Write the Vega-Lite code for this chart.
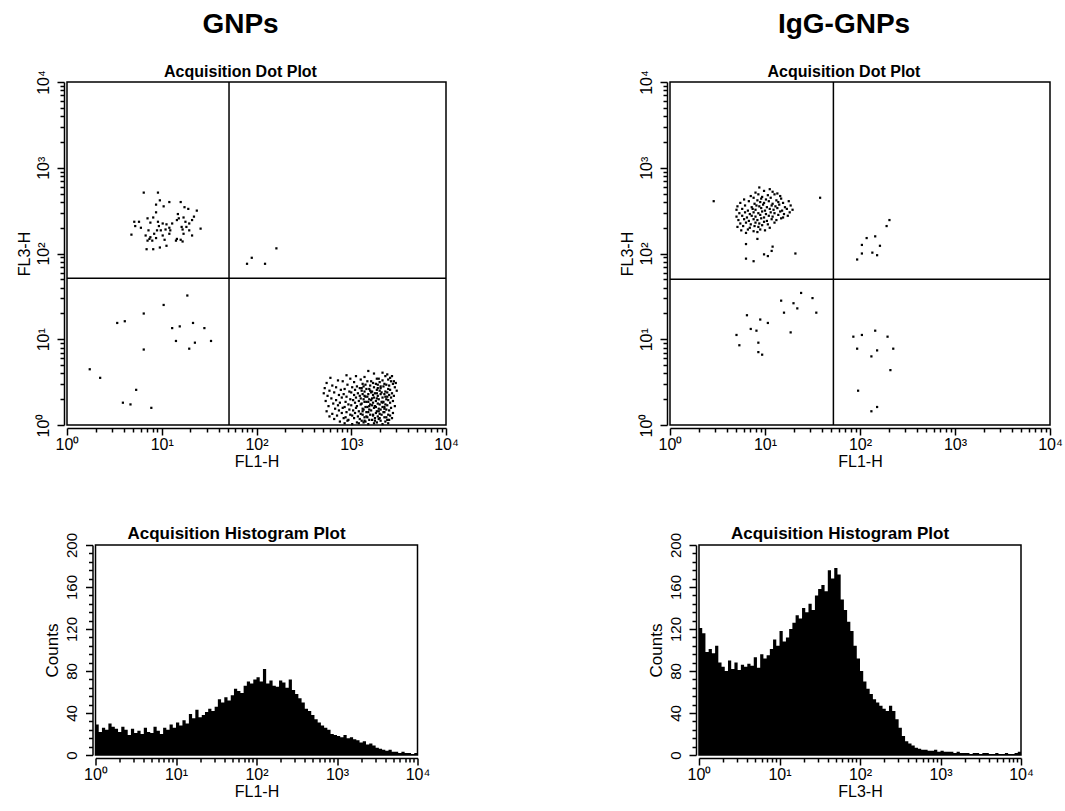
{
  "$schema": "https://vega.github.io/schema/vega-lite/v6.json",
  "autosize": {"type": "none"},
  "padding": {"left": 67, "top": 82, "right": 998, "bottom": 729},
  "background": "white",
  "config": {
    "font": "Liberation Sans",
    "view": {"stroke": "black", "strokeWidth": 1.5},
    "axis": {
      "grid": false,
      "domainColor": "black",
      "domainWidth": 1.5,
      "tickColor": "black",
      "tickWidth": 1.5,
      "labelColor": "black",
      "titleColor": "black",
      "labelFont": "Liberation Sans",
      "titleFont": "Liberation Sans",
      "labelFontSize": 16,
      "titleFontSize": 16,
      "titleFontWeight": "normal",
      "labelFlush": false,
      "labelOverlap": false,
      "labelBound": false
    },
    "title": {
      "font": "Liberation Sans",
      "color": "black",
      "subtitleColor": "black",
      "subtitleFont": "Liberation Sans",
      "anchor": "middle"
    }
  },
  "datasets": {
    "gnps_dots": [
      {"lgFL1": 1.90, "lgFL3": 1.88}, {"lgFL1": 1.95, "lgFL3": 1.95}, {"lgFL1": 2.09, "lgFL3": 1.88}, {"lgFL1": 2.21, "lgFL3": 2.06},
      {"lgFL1": 0.24, "lgFL3": 0.65}, {"lgFL1": 0.35, "lgFL3": 0.55}, {"lgFL1": 0.59, "lgFL3": 0.26}, {"lgFL1": 0.67, "lgFL3": 0.24},
      {"lgFL1": 0.73, "lgFL3": 0.41}, {"lgFL1": 0.89, "lgFL3": 0.20}, {"lgFL1": 0.53, "lgFL3": 1.19}, {"lgFL1": 0.61, "lgFL3": 1.21},
      {"lgFL1": 0.81, "lgFL3": 1.30}, {"lgFL1": 0.81, "lgFL3": 0.88}, {"lgFL1": 1.02, "lgFL3": 1.40}, {"lgFL1": 1.27, "lgFL3": 1.51},
      {"lgFL1": 1.11, "lgFL3": 1.13}, {"lgFL1": 1.15, "lgFL3": 0.98}, {"lgFL1": 1.19, "lgFL3": 1.15}, {"lgFL1": 1.33, "lgFL3": 1.19},
      {"lgFL1": 1.35, "lgFL3": 0.96}, {"lgFL1": 1.45, "lgFL3": 1.13}, {"lgFL1": 1.29, "lgFL3": 0.89}, {"lgFL1": 1.52, "lgFL3": 0.98},
      {"lgFL1": 0.81, "lgFL3": 2.71}, {"lgFL1": 0.96, "lgFL3": 2.71}, {"lgFL1": 0.98, "lgFL3": 2.62}, {"lgFL1": 0.94, "lgFL3": 2.57},
      {"lgFL1": 1.02, "lgFL3": 2.55}, {"lgFL1": 1.08, "lgFL3": 2.60}, {"lgFL1": 1.20, "lgFL3": 2.60}, {"lgFL1": 1.24, "lgFL3": 2.54},
      {"lgFL1": 1.28, "lgFL3": 2.52}, {"lgFL1": 1.37, "lgFL3": 2.50}, {"lgFL1": 0.94, "lgFL3": 2.48}, {"lgFL1": 0.91, "lgFL3": 2.42},
      {"lgFL1": 1.17, "lgFL3": 2.46}, {"lgFL1": 1.18, "lgFL3": 2.41}, {"lgFL1": 1.23, "lgFL3": 2.42}, {"lgFL1": 1.34, "lgFL3": 2.43},
      {"lgFL1": 0.71, "lgFL3": 2.37}, {"lgFL1": 0.76, "lgFL3": 2.37}, {"lgFL1": 0.85, "lgFL3": 2.41}, {"lgFL1": 0.88, "lgFL3": 2.36},
      {"lgFL1": 0.96, "lgFL3": 2.37}, {"lgFL1": 1.01, "lgFL3": 2.35}, {"lgFL1": 1.05, "lgFL3": 2.34}, {"lgFL1": 1.25, "lgFL3": 2.37},
      {"lgFL1": 1.29, "lgFL3": 2.35}, {"lgFL1": 0.78, "lgFL3": 2.30}, {"lgFL1": 0.72, "lgFL3": 2.32}, {"lgFL1": 0.97, "lgFL3": 2.32},
      {"lgFL1": 0.99, "lgFL3": 2.27}, {"lgFL1": 1.04, "lgFL3": 2.28}, {"lgFL1": 1.09, "lgFL3": 2.27}, {"lgFL1": 1.22, "lgFL3": 2.28},
      {"lgFL1": 1.29, "lgFL3": 2.27}, {"lgFL1": 1.41, "lgFL3": 2.29}, {"lgFL1": 0.68, "lgFL3": 2.22}, {"lgFL1": 0.83, "lgFL3": 2.21},
      {"lgFL1": 0.87, "lgFL3": 2.17}, {"lgFL1": 0.90, "lgFL3": 2.15}, {"lgFL1": 0.85, "lgFL3": 2.15}, {"lgFL1": 0.94, "lgFL3": 2.18},
      {"lgFL1": 1.01, "lgFL3": 2.21}, {"lgFL1": 1.03, "lgFL3": 2.16}, {"lgFL1": 1.16, "lgFL3": 2.17}, {"lgFL1": 1.20, "lgFL3": 2.16},
      {"lgFL1": 1.23, "lgFL3": 2.23}, {"lgFL1": 1.32, "lgFL3": 2.21}, {"lgFL1": 0.84, "lgFL3": 2.05}, {"lgFL1": 0.91, "lgFL3": 2.05},
      {"lgFL1": 0.98, "lgFL3": 2.07}, {"lgFL1": 1.05, "lgFL3": 2.09}, {"lgFL1": 1.08, "lgFL3": 2.30}, {"lgFL1": 0.95, "lgFL3": 2.27},
      {"lgFL1": 0.86, "lgFL3": 2.27}, {"lgFL1": 0.92, "lgFL3": 2.23}, {"lgFL1": 1.11, "lgFL3": 2.35}, {"lgFL1": 1.16, "lgFL3": 2.39},
      {"lgFL1": 1.21, "lgFL3": 2.31}, {"lgFL1": 1.26, "lgFL3": 2.31}, {"lgFL1": 1.32, "lgFL3": 2.39}, {"lgFL1": 1.15, "lgFL3": 2.15},
      {"lgFL1": 1.22, "lgFL3": 2.14}, {"lgFL1": 0.88, "lgFL3": 2.19}, {"lgFL1": 1.08, "lgFL3": 2.23},
      {"lgFL1": 3.18, "lgFL3": 0.63}, {"lgFL1": 3.33, "lgFL3": 0.61},
      {"lgFL1": 2.95, "lgFL3": 0.58}, {"lgFL1": 3.24, "lgFL3": 0.60}, {"lgFL1": 3.38, "lgFL3": 0.59}, {"lgFL1": 3.43, "lgFL3": 0.57},
      {"lgFL1": 2.78, "lgFL3": 0.55}, {"lgFL1": 3.05, "lgFL3": 0.57}, {"lgFL1": 3.14, "lgFL3": 0.56}, {"lgFL1": 3.29, "lgFL3": 0.54}, {"lgFL1": 3.36, "lgFL3": 0.57}, {"lgFL1": 3.41, "lgFL3": 0.55},
      {"lgFL1": 2.86, "lgFL3": 0.52}, {"lgFL1": 2.99, "lgFL3": 0.54}, {"lgFL1": 3.10, "lgFL3": 0.53}, {"lgFL1": 3.21, "lgFL3": 0.51}, {"lgFL1": 3.27, "lgFL3": 0.54}, {"lgFL1": 3.33, "lgFL3": 0.52}, {"lgFL1": 3.39, "lgFL3": 0.53}, {"lgFL1": 3.45, "lgFL3": 0.51},
      {"lgFL1": 2.74, "lgFL3": 0.49}, {"lgFL1": 2.91, "lgFL3": 0.51}, {"lgFL1": 3.03, "lgFL3": 0.50}, {"lgFL1": 3.12, "lgFL3": 0.48}, {"lgFL1": 3.17, "lgFL3": 0.51}, {"lgFL1": 3.23, "lgFL3": 0.49}, {"lgFL1": 3.30, "lgFL3": 0.50}, {"lgFL1": 3.35, "lgFL3": 0.48}, {"lgFL1": 3.42, "lgFL3": 0.51}, {"lgFL1": 3.47, "lgFL3": 0.49},
      {"lgFL1": 2.80, "lgFL3": 0.46}, {"lgFL1": 2.96, "lgFL3": 0.47}, {"lgFL1": 3.06, "lgFL3": 0.45}, {"lgFL1": 3.15, "lgFL3": 0.47}, {"lgFL1": 3.20, "lgFL3": 0.46}, {"lgFL1": 3.26, "lgFL3": 0.48}, {"lgFL1": 3.31, "lgFL3": 0.45}, {"lgFL1": 3.37, "lgFL3": 0.47}, {"lgFL1": 3.40, "lgFL3": 0.46}, {"lgFL1": 3.44, "lgFL3": 0.48},
      {"lgFL1": 2.72, "lgFL3": 0.43}, {"lgFL1": 2.84, "lgFL3": 0.44}, {"lgFL1": 2.93, "lgFL3": 0.42}, {"lgFL1": 3.01, "lgFL3": 0.44}, {"lgFL1": 3.09, "lgFL3": 0.43}, {"lgFL1": 3.13, "lgFL3": 0.45}, {"lgFL1": 3.19, "lgFL3": 0.42}, {"lgFL1": 3.24, "lgFL3": 0.44}, {"lgFL1": 3.28, "lgFL3": 0.43}, {"lgFL1": 3.34, "lgFL3": 0.45}, {"lgFL1": 3.39, "lgFL3": 0.42}, {"lgFL1": 3.46, "lgFL3": 0.44},
      {"lgFL1": 2.77, "lgFL3": 0.40}, {"lgFL1": 2.89, "lgFL3": 0.41}, {"lgFL1": 2.98, "lgFL3": 0.39}, {"lgFL1": 3.04, "lgFL3": 0.41}, {"lgFL1": 3.11, "lgFL3": 0.40}, {"lgFL1": 3.16, "lgFL3": 0.42}, {"lgFL1": 3.22, "lgFL3": 0.39}, {"lgFL1": 3.27, "lgFL3": 0.41}, {"lgFL1": 3.30, "lgFL3": 0.40}, {"lgFL1": 3.36, "lgFL3": 0.39}, {"lgFL1": 3.41, "lgFL3": 0.41}, {"lgFL1": 3.48, "lgFL3": 0.40},
      {"lgFL1": 2.71, "lgFL3": 0.37}, {"lgFL1": 2.82, "lgFL3": 0.38}, {"lgFL1": 2.92, "lgFL3": 0.36}, {"lgFL1": 3.00, "lgFL3": 0.38}, {"lgFL1": 3.07, "lgFL3": 0.37}, {"lgFL1": 3.14, "lgFL3": 0.39}, {"lgFL1": 3.18, "lgFL3": 0.36}, {"lgFL1": 3.21, "lgFL3": 0.38}, {"lgFL1": 3.25, "lgFL3": 0.37}, {"lgFL1": 3.32, "lgFL3": 0.38}, {"lgFL1": 3.35, "lgFL3": 0.36}, {"lgFL1": 3.38, "lgFL3": 0.38}, {"lgFL1": 3.43, "lgFL3": 0.37},
      {"lgFL1": 2.75, "lgFL3": 0.34}, {"lgFL1": 2.87, "lgFL3": 0.35}, {"lgFL1": 2.95, "lgFL3": 0.33}, {"lgFL1": 3.03, "lgFL3": 0.35}, {"lgFL1": 3.09, "lgFL3": 0.34}, {"lgFL1": 3.12, "lgFL3": 0.36}, {"lgFL1": 3.17, "lgFL3": 0.33}, {"lgFL1": 3.23, "lgFL3": 0.35}, {"lgFL1": 3.28, "lgFL3": 0.34}, {"lgFL1": 3.31, "lgFL3": 0.36}, {"lgFL1": 3.36, "lgFL3": 0.33}, {"lgFL1": 3.40, "lgFL3": 0.35}, {"lgFL1": 3.45, "lgFL3": 0.34},
      {"lgFL1": 2.79, "lgFL3": 0.31}, {"lgFL1": 2.90, "lgFL3": 0.32}, {"lgFL1": 2.99, "lgFL3": 0.30}, {"lgFL1": 3.05, "lgFL3": 0.32}, {"lgFL1": 3.10, "lgFL3": 0.31}, {"lgFL1": 3.15, "lgFL3": 0.33}, {"lgFL1": 3.19, "lgFL3": 0.30}, {"lgFL1": 3.24, "lgFL3": 0.32}, {"lgFL1": 3.27, "lgFL3": 0.31}, {"lgFL1": 3.33, "lgFL3": 0.32}, {"lgFL1": 3.37, "lgFL3": 0.30}, {"lgFL1": 3.42, "lgFL3": 0.32},
      {"lgFL1": 2.73, "lgFL3": 0.28}, {"lgFL1": 2.84, "lgFL3": 0.29}, {"lgFL1": 2.94, "lgFL3": 0.27}, {"lgFL1": 3.02, "lgFL3": 0.29}, {"lgFL1": 3.08, "lgFL3": 0.28}, {"lgFL1": 3.13, "lgFL3": 0.30}, {"lgFL1": 3.16, "lgFL3": 0.27}, {"lgFL1": 3.21, "lgFL3": 0.29}, {"lgFL1": 3.26, "lgFL3": 0.28}, {"lgFL1": 3.29, "lgFL3": 0.30}, {"lgFL1": 3.34, "lgFL3": 0.27}, {"lgFL1": 3.39, "lgFL3": 0.29}, {"lgFL1": 3.44, "lgFL3": 0.28},
      {"lgFL1": 2.81, "lgFL3": 0.25}, {"lgFL1": 2.88, "lgFL3": 0.26}, {"lgFL1": 2.97, "lgFL3": 0.24}, {"lgFL1": 3.04, "lgFL3": 0.26}, {"lgFL1": 3.11, "lgFL3": 0.25}, {"lgFL1": 3.14, "lgFL3": 0.27}, {"lgFL1": 3.20, "lgFL3": 0.24}, {"lgFL1": 3.23, "lgFL3": 0.26}, {"lgFL1": 3.28, "lgFL3": 0.25}, {"lgFL1": 3.32, "lgFL3": 0.27}, {"lgFL1": 3.36, "lgFL3": 0.24}, {"lgFL1": 3.41, "lgFL3": 0.26},
      {"lgFL1": 2.76, "lgFL3": 0.22}, {"lgFL1": 2.86, "lgFL3": 0.23}, {"lgFL1": 2.93, "lgFL3": 0.21}, {"lgFL1": 3.00, "lgFL3": 0.23}, {"lgFL1": 3.06, "lgFL3": 0.22}, {"lgFL1": 3.10, "lgFL3": 0.24}, {"lgFL1": 3.17, "lgFL3": 0.21}, {"lgFL1": 3.22, "lgFL3": 0.23}, {"lgFL1": 3.25, "lgFL3": 0.22}, {"lgFL1": 3.30, "lgFL3": 0.24}, {"lgFL1": 3.35, "lgFL3": 0.21}, {"lgFL1": 3.38, "lgFL3": 0.23}, {"lgFL1": 3.46, "lgFL3": 0.22},
      {"lgFL1": 2.83, "lgFL3": 0.19}, {"lgFL1": 2.91, "lgFL3": 0.20}, {"lgFL1": 2.98, "lgFL3": 0.18}, {"lgFL1": 3.05, "lgFL3": 0.20}, {"lgFL1": 3.12, "lgFL3": 0.19}, {"lgFL1": 3.15, "lgFL3": 0.21}, {"lgFL1": 3.19, "lgFL3": 0.18}, {"lgFL1": 3.24, "lgFL3": 0.20}, {"lgFL1": 3.29, "lgFL3": 0.19}, {"lgFL1": 3.33, "lgFL3": 0.21}, {"lgFL1": 3.37, "lgFL3": 0.18}, {"lgFL1": 3.42, "lgFL3": 0.20},
      {"lgFL1": 2.74, "lgFL3": 0.16}, {"lgFL1": 2.87, "lgFL3": 0.17}, {"lgFL1": 2.95, "lgFL3": 0.15}, {"lgFL1": 3.02, "lgFL3": 0.17}, {"lgFL1": 3.08, "lgFL3": 0.16}, {"lgFL1": 3.13, "lgFL3": 0.18}, {"lgFL1": 3.18, "lgFL3": 0.15}, {"lgFL1": 3.21, "lgFL3": 0.17}, {"lgFL1": 3.27, "lgFL3": 0.16}, {"lgFL1": 3.31, "lgFL3": 0.18}, {"lgFL1": 3.35, "lgFL3": 0.15}, {"lgFL1": 3.40, "lgFL3": 0.17},
      {"lgFL1": 2.80, "lgFL3": 0.13}, {"lgFL1": 2.90, "lgFL3": 0.14}, {"lgFL1": 2.99, "lgFL3": 0.12}, {"lgFL1": 3.04, "lgFL3": 0.14}, {"lgFL1": 3.10, "lgFL3": 0.13}, {"lgFL1": 3.16, "lgFL3": 0.15}, {"lgFL1": 3.20, "lgFL3": 0.12}, {"lgFL1": 3.26, "lgFL3": 0.14}, {"lgFL1": 3.30, "lgFL3": 0.13}, {"lgFL1": 3.34, "lgFL3": 0.15}, {"lgFL1": 3.39, "lgFL3": 0.12}, {"lgFL1": 3.44, "lgFL3": 0.14},
      {"lgFL1": 2.77, "lgFL3": 0.10}, {"lgFL1": 2.85, "lgFL3": 0.11}, {"lgFL1": 2.94, "lgFL3": 0.09}, {"lgFL1": 3.01, "lgFL3": 0.11}, {"lgFL1": 3.07, "lgFL3": 0.10}, {"lgFL1": 3.12, "lgFL3": 0.12}, {"lgFL1": 3.17, "lgFL3": 0.09}, {"lgFL1": 3.23, "lgFL3": 0.11}, {"lgFL1": 3.28, "lgFL3": 0.10}, {"lgFL1": 3.32, "lgFL3": 0.12}, {"lgFL1": 3.37, "lgFL3": 0.09}, {"lgFL1": 3.41, "lgFL3": 0.11},
      {"lgFL1": 2.82, "lgFL3": 0.07}, {"lgFL1": 2.92, "lgFL3": 0.08}, {"lgFL1": 2.97, "lgFL3": 0.06}, {"lgFL1": 3.03, "lgFL3": 0.08}, {"lgFL1": 3.09, "lgFL3": 0.07}, {"lgFL1": 3.14, "lgFL3": 0.09}, {"lgFL1": 3.19, "lgFL3": 0.06}, {"lgFL1": 3.25, "lgFL3": 0.08}, {"lgFL1": 3.29, "lgFL3": 0.07}, {"lgFL1": 3.35, "lgFL3": 0.09}, {"lgFL1": 3.38, "lgFL3": 0.06}, {"lgFL1": 3.43, "lgFL3": 0.08},
      {"lgFL1": 2.88, "lgFL3": 0.04}, {"lgFL1": 2.96, "lgFL3": 0.05}, {"lgFL1": 3.06, "lgFL3": 0.03}, {"lgFL1": 3.11, "lgFL3": 0.05}, {"lgFL1": 3.15, "lgFL3": 0.04}, {"lgFL1": 3.22, "lgFL3": 0.06}, {"lgFL1": 3.27, "lgFL3": 0.03}, {"lgFL1": 3.31, "lgFL3": 0.05}, {"lgFL1": 3.36, "lgFL3": 0.04}, {"lgFL1": 3.40, "lgFL3": 0.06},
      {"lgFL1": 2.93, "lgFL3": 0.02}, {"lgFL1": 3.01, "lgFL3": 0.01}, {"lgFL1": 3.08, "lgFL3": 0.02}, {"lgFL1": 3.13, "lgFL3": 0.03}, {"lgFL1": 3.18, "lgFL3": 0.01}, {"lgFL1": 3.24, "lgFL3": 0.02}, {"lgFL1": 3.33, "lgFL3": 0.01}, {"lgFL1": 3.39, "lgFL3": 0.02},
      {"lgFL1": 3.14, "lgFL3": 0.34}, {"lgFL1": 3.26, "lgFL3": 0.21}, {"lgFL1": 3.20, "lgFL3": 0.40}, {"lgFL1": 3.29, "lgFL3": 0.16}, {"lgFL1": 3.18, "lgFL3": 0.27},
      {"lgFL1": 3.23, "lgFL3": 0.12}, {"lgFL1": 3.31, "lgFL3": 0.43}, {"lgFL1": 3.12, "lgFL3": 0.16}, {"lgFL1": 3.33, "lgFL3": 0.26}, {"lgFL1": 3.27, "lgFL3": 0.37},
      {"lgFL1": 3.16, "lgFL3": 0.10}, {"lgFL1": 3.22, "lgFL3": 0.31}, {"lgFL1": 3.35, "lgFL3": 0.19}, {"lgFL1": 3.11, "lgFL3": 0.43}, {"lgFL1": 3.25, "lgFL3": 0.05},
      {"lgFL1": 3.38, "lgFL3": 0.33}, {"lgFL1": 3.19, "lgFL3": 0.22}, {"lgFL1": 3.30, "lgFL3": 0.08}, {"lgFL1": 3.14, "lgFL3": 0.05}, {"lgFL1": 3.28, "lgFL3": 0.47}
    ],
    "igg_dots": [
      {"lgFL1": 0.94, "lgFL3": 2.77}, {"lgFL1": 1.05, "lgFL3": 2.75},
      {"lgFL1": 0.90, "lgFL3": 2.71}, {"lgFL1": 0.99, "lgFL3": 2.73}, {"lgFL1": 1.08, "lgFL3": 2.72}, {"lgFL1": 1.13, "lgFL3": 2.70},
      {"lgFL1": 0.85, "lgFL3": 2.67}, {"lgFL1": 0.93, "lgFL3": 2.69}, {"lgFL1": 0.97, "lgFL3": 2.66}, {"lgFL1": 1.03, "lgFL3": 2.68}, {"lgFL1": 1.10, "lgFL3": 2.69}, {"lgFL1": 1.16, "lgFL3": 2.67},
      {"lgFL1": 0.78, "lgFL3": 2.63}, {"lgFL1": 0.88, "lgFL3": 2.65}, {"lgFL1": 0.92, "lgFL3": 2.62}, {"lgFL1": 0.96, "lgFL3": 2.64}, {"lgFL1": 1.01, "lgFL3": 2.63}, {"lgFL1": 1.06, "lgFL3": 2.65}, {"lgFL1": 1.12, "lgFL3": 2.62}, {"lgFL1": 1.17, "lgFL3": 2.64},
      {"lgFL1": 0.74, "lgFL3": 2.59}, {"lgFL1": 0.83, "lgFL3": 2.61}, {"lgFL1": 0.89, "lgFL3": 2.58}, {"lgFL1": 0.95, "lgFL3": 2.60}, {"lgFL1": 0.99, "lgFL3": 2.59}, {"lgFL1": 1.04, "lgFL3": 2.61}, {"lgFL1": 1.08, "lgFL3": 2.58}, {"lgFL1": 1.14, "lgFL3": 2.60}, {"lgFL1": 1.19, "lgFL3": 2.59}, {"lgFL1": 1.25, "lgFL3": 2.61},
      {"lgFL1": 0.71, "lgFL3": 2.55}, {"lgFL1": 0.79, "lgFL3": 2.56}, {"lgFL1": 0.86, "lgFL3": 2.54}, {"lgFL1": 0.91, "lgFL3": 2.56}, {"lgFL1": 0.94, "lgFL3": 2.55}, {"lgFL1": 0.98, "lgFL3": 2.57}, {"lgFL1": 1.02, "lgFL3": 2.54}, {"lgFL1": 1.07, "lgFL3": 2.56}, {"lgFL1": 1.11, "lgFL3": 2.55}, {"lgFL1": 1.15, "lgFL3": 2.57}, {"lgFL1": 1.21, "lgFL3": 2.54}, {"lgFL1": 1.27, "lgFL3": 2.56},
      {"lgFL1": 0.70, "lgFL3": 2.51}, {"lgFL1": 0.76, "lgFL3": 2.52}, {"lgFL1": 0.82, "lgFL3": 2.50}, {"lgFL1": 0.87, "lgFL3": 2.52}, {"lgFL1": 0.90, "lgFL3": 2.51}, {"lgFL1": 0.96, "lgFL3": 2.53}, {"lgFL1": 1.00, "lgFL3": 2.50}, {"lgFL1": 1.05, "lgFL3": 2.52}, {"lgFL1": 1.09, "lgFL3": 2.51}, {"lgFL1": 1.13, "lgFL3": 2.53}, {"lgFL1": 1.18, "lgFL3": 2.50}, {"lgFL1": 1.23, "lgFL3": 2.52}, {"lgFL1": 1.29, "lgFL3": 2.51},
      {"lgFL1": 0.73, "lgFL3": 2.47}, {"lgFL1": 0.79, "lgFL3": 2.48}, {"lgFL1": 0.84, "lgFL3": 2.46}, {"lgFL1": 0.88, "lgFL3": 2.48}, {"lgFL1": 0.93, "lgFL3": 2.47}, {"lgFL1": 0.97, "lgFL3": 2.49}, {"lgFL1": 1.01, "lgFL3": 2.46}, {"lgFL1": 1.06, "lgFL3": 2.48}, {"lgFL1": 1.10, "lgFL3": 2.47}, {"lgFL1": 1.16, "lgFL3": 2.49}, {"lgFL1": 1.20, "lgFL3": 2.46}, {"lgFL1": 1.26, "lgFL3": 2.48},
      {"lgFL1": 0.70, "lgFL3": 2.43}, {"lgFL1": 0.76, "lgFL3": 2.44}, {"lgFL1": 0.81, "lgFL3": 2.42}, {"lgFL1": 0.86, "lgFL3": 2.44}, {"lgFL1": 0.90, "lgFL3": 2.43}, {"lgFL1": 0.95, "lgFL3": 2.45}, {"lgFL1": 0.99, "lgFL3": 2.42}, {"lgFL1": 1.04, "lgFL3": 2.44}, {"lgFL1": 1.08, "lgFL3": 2.43}, {"lgFL1": 1.14, "lgFL3": 2.45}, {"lgFL1": 1.19, "lgFL3": 2.42}, {"lgFL1": 1.24, "lgFL3": 2.44},
      {"lgFL1": 0.72, "lgFL3": 2.39}, {"lgFL1": 0.78, "lgFL3": 2.40}, {"lgFL1": 0.83, "lgFL3": 2.38}, {"lgFL1": 0.88, "lgFL3": 2.40}, {"lgFL1": 0.92, "lgFL3": 2.39}, {"lgFL1": 0.96, "lgFL3": 2.41}, {"lgFL1": 1.02, "lgFL3": 2.38}, {"lgFL1": 1.07, "lgFL3": 2.40}, {"lgFL1": 1.12, "lgFL3": 2.39}, {"lgFL1": 1.17, "lgFL3": 2.41},
      {"lgFL1": 0.74, "lgFL3": 2.35}, {"lgFL1": 0.80, "lgFL3": 2.36}, {"lgFL1": 0.85, "lgFL3": 2.34}, {"lgFL1": 0.90, "lgFL3": 2.36}, {"lgFL1": 0.94, "lgFL3": 2.35}, {"lgFL1": 0.99, "lgFL3": 2.37}, {"lgFL1": 1.03, "lgFL3": 2.34}, {"lgFL1": 1.10, "lgFL3": 2.36},
      {"lgFL1": 0.71, "lgFL3": 2.31}, {"lgFL1": 0.77, "lgFL3": 2.32}, {"lgFL1": 0.84, "lgFL3": 2.30}, {"lgFL1": 0.89, "lgFL3": 2.32}, {"lgFL1": 0.93, "lgFL3": 2.31}, {"lgFL1": 0.97, "lgFL3": 2.33}, {"lgFL1": 1.05, "lgFL3": 2.30},
      {"lgFL1": 0.75, "lgFL3": 2.27}, {"lgFL1": 0.82, "lgFL3": 2.28}, {"lgFL1": 0.88, "lgFL3": 2.26}, {"lgFL1": 0.95, "lgFL3": 2.28}, {"lgFL1": 1.00, "lgFL3": 2.27},
      {"lgFL1": 0.80, "lgFL3": 2.24}, {"lgFL1": 0.92, "lgFL3": 2.25},
      {"lgFL1": 0.46, "lgFL3": 2.61}, {"lgFL1": 1.58, "lgFL3": 2.65}, {"lgFL1": 1.32, "lgFL3": 2.00}, {"lgFL1": 0.80, "lgFL3": 2.11}, {"lgFL1": 0.80, "lgFL3": 1.94},
      {"lgFL1": 0.88, "lgFL3": 1.91}, {"lgFL1": 0.92, "lgFL3": 2.17}, {"lgFL1": 0.99, "lgFL3": 1.99}, {"lgFL1": 1.03, "lgFL3": 1.97}, {"lgFL1": 1.07, "lgFL3": 2.03}, {"lgFL1": 1.08, "lgFL3": 2.08},
      {"lgFL1": 1.97, "lgFL3": 1.93}, {"lgFL1": 2.02, "lgFL3": 2.00}, {"lgFL1": 2.02, "lgFL3": 2.10}, {"lgFL1": 2.07, "lgFL3": 2.18}, {"lgFL1": 2.16, "lgFL3": 2.20},
      {"lgFL1": 2.13, "lgFL3": 2.01}, {"lgFL1": 2.18, "lgFL3": 1.98}, {"lgFL1": 2.21, "lgFL3": 2.09}, {"lgFL1": 2.28, "lgFL3": 2.32}, {"lgFL1": 2.31, "lgFL3": 2.39},
      {"lgFL1": 0.81, "lgFL3": 1.28}, {"lgFL1": 0.70, "lgFL3": 1.05}, {"lgFL1": 0.73, "lgFL3": 0.93}, {"lgFL1": 0.85, "lgFL3": 1.12}, {"lgFL1": 0.91, "lgFL3": 1.10}, {"lgFL1": 0.95, "lgFL3": 1.23},
      {"lgFL1": 0.93, "lgFL3": 0.96}, {"lgFL1": 0.93, "lgFL3": 0.85}, {"lgFL1": 0.97, "lgFL3": 0.82}, {"lgFL1": 1.03, "lgFL3": 1.19}, {"lgFL1": 1.17, "lgFL3": 1.45}, {"lgFL1": 1.20, "lgFL3": 1.31},
      {"lgFL1": 1.27, "lgFL3": 1.08}, {"lgFL1": 1.30, "lgFL3": 1.42}, {"lgFL1": 1.34, "lgFL3": 1.36}, {"lgFL1": 1.38, "lgFL3": 1.54}, {"lgFL1": 1.50, "lgFL3": 1.48}, {"lgFL1": 1.54, "lgFL3": 1.31},
      {"lgFL1": 1.93, "lgFL3": 1.03}, {"lgFL1": 2.02, "lgFL3": 1.05}, {"lgFL1": 1.97, "lgFL3": 0.89}, {"lgFL1": 2.16, "lgFL3": 1.10}, {"lgFL1": 2.18, "lgFL3": 0.87}, {"lgFL1": 2.12, "lgFL3": 0.80},
      {"lgFL1": 2.29, "lgFL3": 1.03}, {"lgFL1": 2.35, "lgFL3": 0.89}, {"lgFL1": 2.32, "lgFL3": 0.64}, {"lgFL1": 1.98, "lgFL3": 0.40}, {"lgFL1": 2.12, "lgFL3": 0.16}, {"lgFL1": 2.18, "lgFL3": 0.21}
    ],
    "gnps_gate": [{"gateFL1": 1.71, "gateFL3": 1.71}],
    "igg_gate": [{"gateFL1": 1.72, "gateFL3": 1.70}],
    "gnps_hist": [
      {"lgFL": 0.00, "counts": 29}, {"lgFL": 0.04, "counts": 22}, {"lgFL": 0.08, "counts": 26}, {"lgFL": 0.12, "counts": 24}, {"lgFL": 0.16, "counts": 30},
      {"lgFL": 0.20, "counts": 27}, {"lgFL": 0.24, "counts": 25}, {"lgFL": 0.28, "counts": 22}, {"lgFL": 0.32, "counts": 27}, {"lgFL": 0.36, "counts": 24},
      {"lgFL": 0.40, "counts": 19}, {"lgFL": 0.44, "counts": 25}, {"lgFL": 0.48, "counts": 21}, {"lgFL": 0.52, "counts": 23}, {"lgFL": 0.56, "counts": 20},
      {"lgFL": 0.60, "counts": 26}, {"lgFL": 0.64, "counts": 22}, {"lgFL": 0.68, "counts": 21}, {"lgFL": 0.72, "counts": 27}, {"lgFL": 0.76, "counts": 23},
      {"lgFL": 0.80, "counts": 20}, {"lgFL": 0.84, "counts": 26}, {"lgFL": 0.88, "counts": 24}, {"lgFL": 0.92, "counts": 29}, {"lgFL": 0.96, "counts": 26},
      {"lgFL": 1.00, "counts": 31}, {"lgFL": 1.04, "counts": 28}, {"lgFL": 1.08, "counts": 33}, {"lgFL": 1.12, "counts": 30}, {"lgFL": 1.16, "counts": 39},
      {"lgFL": 1.20, "counts": 35}, {"lgFL": 1.24, "counts": 43}, {"lgFL": 1.28, "counts": 36}, {"lgFL": 1.32, "counts": 38}, {"lgFL": 1.36, "counts": 41},
      {"lgFL": 1.40, "counts": 44}, {"lgFL": 1.44, "counts": 42}, {"lgFL": 1.48, "counts": 46}, {"lgFL": 1.52, "counts": 53}, {"lgFL": 1.56, "counts": 50},
      {"lgFL": 1.60, "counts": 55}, {"lgFL": 1.64, "counts": 52}, {"lgFL": 1.68, "counts": 57}, {"lgFL": 1.72, "counts": 63}, {"lgFL": 1.76, "counts": 61},
      {"lgFL": 1.80, "counts": 59}, {"lgFL": 1.84, "counts": 66}, {"lgFL": 1.88, "counts": 70}, {"lgFL": 1.92, "counts": 68}, {"lgFL": 1.96, "counts": 72},
      {"lgFL": 2.00, "counts": 74}, {"lgFL": 2.04, "counts": 70}, {"lgFL": 2.08, "counts": 82}, {"lgFL": 2.12, "counts": 68}, {"lgFL": 2.16, "counts": 71},
      {"lgFL": 2.20, "counts": 66}, {"lgFL": 2.24, "counts": 65}, {"lgFL": 2.28, "counts": 71}, {"lgFL": 2.32, "counts": 69}, {"lgFL": 2.36, "counts": 64},
      {"lgFL": 2.40, "counts": 72}, {"lgFL": 2.44, "counts": 62}, {"lgFL": 2.48, "counts": 58}, {"lgFL": 2.52, "counts": 54}, {"lgFL": 2.56, "counts": 50},
      {"lgFL": 2.60, "counts": 44}, {"lgFL": 2.64, "counts": 42}, {"lgFL": 2.68, "counts": 38}, {"lgFL": 2.72, "counts": 34}, {"lgFL": 2.76, "counts": 31},
      {"lgFL": 2.80, "counts": 28}, {"lgFL": 2.84, "counts": 26}, {"lgFL": 2.88, "counts": 24}, {"lgFL": 2.92, "counts": 20}, {"lgFL": 2.96, "counts": 19},
      {"lgFL": 3.00, "counts": 18}, {"lgFL": 3.04, "counts": 17}, {"lgFL": 3.08, "counts": 19}, {"lgFL": 3.12, "counts": 16}, {"lgFL": 3.16, "counts": 17},
      {"lgFL": 3.20, "counts": 15}, {"lgFL": 3.24, "counts": 14}, {"lgFL": 3.28, "counts": 12}, {"lgFL": 3.32, "counts": 13}, {"lgFL": 3.36, "counts": 10},
      {"lgFL": 3.40, "counts": 11}, {"lgFL": 3.44, "counts": 9}, {"lgFL": 3.48, "counts": 7}, {"lgFL": 3.52, "counts": 6}, {"lgFL": 3.56, "counts": 5},
      {"lgFL": 3.60, "counts": 4}, {"lgFL": 3.64, "counts": 5}, {"lgFL": 3.68, "counts": 3}, {"lgFL": 3.72, "counts": 3}, {"lgFL": 3.76, "counts": 2},
      {"lgFL": 3.80, "counts": 3}, {"lgFL": 3.84, "counts": 2}, {"lgFL": 3.88, "counts": 2}, {"lgFL": 3.92, "counts": 1}, {"lgFL": 3.96, "counts": 2},
      {"lgFL": 4.00, "counts": 2}
    ],
    "igg_hist": [
      {"lgFL": 0.00, "counts": 121}, {"lgFL": 0.04, "counts": 116}, {"lgFL": 0.08, "counts": 98}, {"lgFL": 0.12, "counts": 101}, {"lgFL": 0.16, "counts": 97},
      {"lgFL": 0.20, "counts": 104}, {"lgFL": 0.24, "counts": 88}, {"lgFL": 0.28, "counts": 84}, {"lgFL": 0.32, "counts": 80}, {"lgFL": 0.36, "counts": 90},
      {"lgFL": 0.40, "counts": 82}, {"lgFL": 0.44, "counts": 88}, {"lgFL": 0.48, "counts": 81}, {"lgFL": 0.52, "counts": 86}, {"lgFL": 0.56, "counts": 84},
      {"lgFL": 0.60, "counts": 87}, {"lgFL": 0.64, "counts": 85}, {"lgFL": 0.68, "counts": 93}, {"lgFL": 0.72, "counts": 83}, {"lgFL": 0.76, "counts": 96},
      {"lgFL": 0.80, "counts": 92}, {"lgFL": 0.84, "counts": 95}, {"lgFL": 0.88, "counts": 101}, {"lgFL": 0.92, "counts": 110}, {"lgFL": 0.96, "counts": 104},
      {"lgFL": 1.00, "counts": 118}, {"lgFL": 1.04, "counts": 108}, {"lgFL": 1.08, "counts": 112}, {"lgFL": 1.12, "counts": 120}, {"lgFL": 1.16, "counts": 126},
      {"lgFL": 1.20, "counts": 133}, {"lgFL": 1.24, "counts": 130}, {"lgFL": 1.28, "counts": 140}, {"lgFL": 1.32, "counts": 136}, {"lgFL": 1.36, "counts": 144},
      {"lgFL": 1.40, "counts": 138}, {"lgFL": 1.44, "counts": 152}, {"lgFL": 1.48, "counts": 158}, {"lgFL": 1.52, "counts": 162}, {"lgFL": 1.56, "counts": 156},
      {"lgFL": 1.60, "counts": 176}, {"lgFL": 1.64, "counts": 168}, {"lgFL": 1.68, "counts": 178}, {"lgFL": 1.72, "counts": 172}, {"lgFL": 1.76, "counts": 148},
      {"lgFL": 1.80, "counts": 138}, {"lgFL": 1.84, "counts": 127}, {"lgFL": 1.88, "counts": 118}, {"lgFL": 1.92, "counts": 104}, {"lgFL": 1.96, "counts": 92},
      {"lgFL": 2.00, "counts": 80}, {"lgFL": 2.04, "counts": 70}, {"lgFL": 2.08, "counts": 63}, {"lgFL": 2.12, "counts": 58}, {"lgFL": 2.16, "counts": 53},
      {"lgFL": 2.20, "counts": 50}, {"lgFL": 2.24, "counts": 47}, {"lgFL": 2.28, "counts": 44}, {"lgFL": 2.32, "counts": 42}, {"lgFL": 2.36, "counts": 47},
      {"lgFL": 2.40, "counts": 42}, {"lgFL": 2.44, "counts": 34}, {"lgFL": 2.48, "counts": 26}, {"lgFL": 2.52, "counts": 18}, {"lgFL": 2.56, "counts": 13},
      {"lgFL": 2.60, "counts": 11}, {"lgFL": 2.64, "counts": 9}, {"lgFL": 2.68, "counts": 7}, {"lgFL": 2.72, "counts": 6}, {"lgFL": 2.76, "counts": 5},
      {"lgFL": 2.80, "counts": 5}, {"lgFL": 2.84, "counts": 4}, {"lgFL": 2.88, "counts": 4}, {"lgFL": 2.92, "counts": 5}, {"lgFL": 2.96, "counts": 3},
      {"lgFL": 3.00, "counts": 4}, {"lgFL": 3.04, "counts": 3}, {"lgFL": 3.08, "counts": 3}, {"lgFL": 3.12, "counts": 3}, {"lgFL": 3.16, "counts": 2},
      {"lgFL": 3.20, "counts": 3}, {"lgFL": 3.24, "counts": 2}, {"lgFL": 3.28, "counts": 2}, {"lgFL": 3.32, "counts": 2}, {"lgFL": 3.36, "counts": 1},
      {"lgFL": 3.40, "counts": 2}, {"lgFL": 3.44, "counts": 2}, {"lgFL": 3.48, "counts": 1}, {"lgFL": 3.52, "counts": 2}, {"lgFL": 3.56, "counts": 2},
      {"lgFL": 3.60, "counts": 1}, {"lgFL": 3.64, "counts": 1}, {"lgFL": 3.68, "counts": 2}, {"lgFL": 3.72, "counts": 1}, {"lgFL": 3.76, "counts": 1},
      {"lgFL": 3.80, "counts": 2}, {"lgFL": 3.84, "counts": 1}, {"lgFL": 3.88, "counts": 1}, {"lgFL": 3.92, "counts": 2}, {"lgFL": 3.96, "counts": 3},
      {"lgFL": 4.00, "counts": 1}
    ]
  },
  "spacing": 603,
  "bounds": "flush",
  "hconcat": [
    {
      "spacing": 120,
      "bounds": "flush",
      "center": true,
      "vconcat": [
        {
          "width": 379,
          "height": 343,
          "title": {"text": "GNPs", "subtitle": "Acquisition Dot Plot", "fontSize": 28, "fontWeight": "bold", "subtitleFontSize": 16, "subtitleFontWeight": "bold", "subtitlePadding": 25, "offset": -10, "dx": -16},
          "layer": [
            {
              "data": {"name": "gnps_dots"},
              "mark": {"type": "point", "shape": "square", "filled": true, "size": 5, "color": "black", "opacity": 1},
              "encoding": {
                "x": {"field": "lgFL1", "type": "quantitative", "title": "FL1-H", "scale": {"domain": [0, 4], "nice": false, "zero": false},
                  "axis": {"values": [0,0.301,0.477,0.602,0.699,0.778,0.845,0.903,0.954,1,1.301,1.477,1.602,1.699,1.778,1.845,1.903,1.954,2,2.301,2.477,2.602,2.699,2.778,2.845,2.903,2.954,3,3.301,3.477,3.602,3.699,3.778,3.845,3.903,3.954,4],
                    "labelExpr": "datum.value === 0 ? '10⁰' : datum.value === 1 ? '10¹' : datum.value === 2 ? '10²' : datum.value === 3 ? '10³' : datum.value === 4 ? '10⁴' : ''",
                    "tickSize": {"condition": {"test": "datum.value % 1 === 0", "value": 7}, "value": 4},
                    "offset": 3, "labelPadding": 1, "titlePadding": 1}},
                "y": {"field": "lgFL3", "type": "quantitative", "title": "FL3-H", "scale": {"domain": [0, 4], "nice": false, "zero": false},
                  "axis": {"values": [0,0.301,0.477,0.602,0.699,0.778,0.845,0.903,0.954,1,1.301,1.477,1.602,1.699,1.778,1.845,1.903,1.954,2,2.301,2.477,2.602,2.699,2.778,2.845,2.903,2.954,3,3.301,3.477,3.602,3.699,3.778,3.845,3.903,3.954,4],
                    "labelExpr": "datum.value === 0 ? '10⁰' : datum.value === 1 ? '10¹' : datum.value === 2 ? '10²' : datum.value === 3 ? '10³' : datum.value === 4 ? '10⁴' : ''",
                    "tickSize": {"condition": {"test": "datum.value % 1 === 0", "value": 7}, "value": 4},
                    "labelAngle": 270, "offset": 3, "labelPadding": 6, "titlePadding": 3}}
              }
            },
            {
              "data": {"name": "gnps_gate"},
              "mark": {"type": "rule", "color": "black", "strokeWidth": 1.5},
              "encoding": {"x": {"field": "gateFL1", "type": "quantitative", "title": "FL1-H", "scale": {"domain": [0, 4], "nice": false, "zero": false},
                  "axis": {"values": [0,0.301,0.477,0.602,0.699,0.778,0.845,0.903,0.954,1,1.301,1.477,1.602,1.699,1.778,1.845,1.903,1.954,2,2.301,2.477,2.602,2.699,2.778,2.845,2.903,2.954,3,3.301,3.477,3.602,3.699,3.778,3.845,3.903,3.954,4],
                    "labelExpr": "datum.value === 0 ? '10⁰' : datum.value === 1 ? '10¹' : datum.value === 2 ? '10²' : datum.value === 3 ? '10³' : datum.value === 4 ? '10⁴' : ''",
                    "tickSize": {"condition": {"test": "datum.value % 1 === 0", "value": 7}, "value": 4},
                    "offset": 3, "labelPadding": 1, "titlePadding": 1}}}
            },
            {
              "data": {"name": "gnps_gate"},
              "mark": {"type": "rule", "color": "black", "strokeWidth": 1.5},
              "encoding": {"y": {"field": "gateFL3", "type": "quantitative", "title": "FL3-H", "scale": {"domain": [0, 4], "nice": false, "zero": false},
                  "axis": {"values": [0,0.301,0.477,0.602,0.699,0.778,0.845,0.903,0.954,1,1.301,1.477,1.602,1.699,1.778,1.845,1.903,1.954,2,2.301,2.477,2.602,2.699,2.778,2.845,2.903,2.954,3,3.301,3.477,3.602,3.699,3.778,3.845,3.903,3.954,4],
                    "labelExpr": "datum.value === 0 ? '10⁰' : datum.value === 1 ? '10¹' : datum.value === 2 ? '10²' : datum.value === 3 ? '10³' : datum.value === 4 ? '10⁴' : ''",
                    "tickSize": {"condition": {"test": "datum.value % 1 === 0", "value": 7}, "value": 4},
                    "labelAngle": 270, "offset": 3, "labelPadding": 6, "titlePadding": 3}}}
            }
          ]
        },
        {
          "width": 322,
          "height": 210,
          "title": {"text": "Acquisition Histogram Plot", "fontSize": 17, "fontWeight": "bold", "offset": -11, "dx": -20},
          "data": {"name": "gnps_hist"},
          "mark": {"type": "area", "interpolate": "step-after", "color": "black", "opacity": 1},
          "encoding": {
            "x": {"field": "lgFL", "type": "quantitative", "scale": {"domain": [0, 4], "nice": false, "zero": false},
              "axis": {"title": "FL1-H", "values": [0,0.301,0.477,0.602,0.699,0.778,0.845,0.903,0.954,1,1.301,1.477,1.602,1.699,1.778,1.845,1.903,1.954,2,2.301,2.477,2.602,2.699,2.778,2.845,2.903,2.954,3,3.301,3.477,3.602,3.699,3.778,3.845,3.903,3.954,4],
                "labelExpr": "datum.value === 0 ? '10⁰' : datum.value === 1 ? '10¹' : datum.value === 2 ? '10²' : datum.value === 3 ? '10³' : datum.value === 4 ? '10⁴' : ''",
                "tickSize": {"condition": {"test": "datum.value % 1 === 0", "value": 7}, "value": 4},
                "offset": 3, "labelPadding": 1, "titlePadding": 1}},
            "y": {"field": "counts", "type": "quantitative", "scale": {"domain": [0, 200], "nice": false},
              "axis": {"title": "Counts", "titleFontSize": 17, "values": [0,8,16,24,32,40,48,56,64,72,80,88,96,104,112,120,128,136,144,152,160,168,176,184,192,200],
                "labelExpr": "datum.value % 40 === 0 ? datum.label : ''",
                "tickSize": {"condition": {"test": "datum.value % 40 === 0", "value": 7}, "value": 4},
                "labelFontSize": 15, "labelAngle": 270, "offset": 3, "labelPadding": 6, "titlePadding": 3}}
          }
        }
      ]
    },
    {
      "spacing": 120,
      "bounds": "flush",
      "center": true,
      "vconcat": [
        {
          "width": 380,
          "height": 343,
          "title": {"text": "IgG-GNPs", "subtitle": "Acquisition Dot Plot", "fontSize": 28, "fontWeight": "bold", "subtitleFontSize": 16, "subtitleFontWeight": "bold", "subtitlePadding": 25, "offset": -10, "dx": -16},
          "layer": [
            {
              "data": {"name": "igg_dots"},
              "mark": {"type": "point", "shape": "square", "filled": true, "size": 5, "color": "black", "opacity": 1},
              "encoding": {
                "x": {"field": "lgFL1", "type": "quantitative", "title": "FL1-H", "scale": {"domain": [0, 4], "nice": false, "zero": false},
                  "axis": {"values": [0,0.301,0.477,0.602,0.699,0.778,0.845,0.903,0.954,1,1.301,1.477,1.602,1.699,1.778,1.845,1.903,1.954,2,2.301,2.477,2.602,2.699,2.778,2.845,2.903,2.954,3,3.301,3.477,3.602,3.699,3.778,3.845,3.903,3.954,4],
                    "labelExpr": "datum.value === 0 ? '10⁰' : datum.value === 1 ? '10¹' : datum.value === 2 ? '10²' : datum.value === 3 ? '10³' : datum.value === 4 ? '10⁴' : ''",
                    "tickSize": {"condition": {"test": "datum.value % 1 === 0", "value": 7}, "value": 4},
                    "offset": 3, "labelPadding": 1, "titlePadding": 1}},
                "y": {"field": "lgFL3", "type": "quantitative", "title": "FL3-H", "scale": {"domain": [0, 4], "nice": false, "zero": false},
                  "axis": {"values": [0,0.301,0.477,0.602,0.699,0.778,0.845,0.903,0.954,1,1.301,1.477,1.602,1.699,1.778,1.845,1.903,1.954,2,2.301,2.477,2.602,2.699,2.778,2.845,2.903,2.954,3,3.301,3.477,3.602,3.699,3.778,3.845,3.903,3.954,4],
                    "labelExpr": "datum.value === 0 ? '10⁰' : datum.value === 1 ? '10¹' : datum.value === 2 ? '10²' : datum.value === 3 ? '10³' : datum.value === 4 ? '10⁴' : ''",
                    "tickSize": {"condition": {"test": "datum.value % 1 === 0", "value": 7}, "value": 4},
                    "labelAngle": 270, "offset": 3, "labelPadding": 6, "titlePadding": 3}}
              }
            },
            {
              "data": {"name": "igg_gate"},
              "mark": {"type": "rule", "color": "black", "strokeWidth": 1.5},
              "encoding": {"x": {"field": "gateFL1", "type": "quantitative", "title": "FL1-H", "scale": {"domain": [0, 4], "nice": false, "zero": false},
                  "axis": {"values": [0,0.301,0.477,0.602,0.699,0.778,0.845,0.903,0.954,1,1.301,1.477,1.602,1.699,1.778,1.845,1.903,1.954,2,2.301,2.477,2.602,2.699,2.778,2.845,2.903,2.954,3,3.301,3.477,3.602,3.699,3.778,3.845,3.903,3.954,4],
                    "labelExpr": "datum.value === 0 ? '10⁰' : datum.value === 1 ? '10¹' : datum.value === 2 ? '10²' : datum.value === 3 ? '10³' : datum.value === 4 ? '10⁴' : ''",
                    "tickSize": {"condition": {"test": "datum.value % 1 === 0", "value": 7}, "value": 4},
                    "offset": 3, "labelPadding": 1, "titlePadding": 1}}}
            },
            {
              "data": {"name": "igg_gate"},
              "mark": {"type": "rule", "color": "black", "strokeWidth": 1.5},
              "encoding": {"y": {"field": "gateFL3", "type": "quantitative", "title": "FL3-H", "scale": {"domain": [0, 4], "nice": false, "zero": false},
                  "axis": {"values": [0,0.301,0.477,0.602,0.699,0.778,0.845,0.903,0.954,1,1.301,1.477,1.602,1.699,1.778,1.845,1.903,1.954,2,2.301,2.477,2.602,2.699,2.778,2.845,2.903,2.954,3,3.301,3.477,3.602,3.699,3.778,3.845,3.903,3.954,4],
                    "labelExpr": "datum.value === 0 ? '10⁰' : datum.value === 1 ? '10¹' : datum.value === 2 ? '10²' : datum.value === 3 ? '10³' : datum.value === 4 ? '10⁴' : ''",
                    "tickSize": {"condition": {"test": "datum.value % 1 === 0", "value": 7}, "value": 4},
                    "labelAngle": 270, "offset": 3, "labelPadding": 6, "titlePadding": 3}}}
            }
          ]
        },
        {
          "width": 322,
          "height": 210,
          "title": {"text": "Acquisition Histogram Plot", "fontSize": 17, "fontWeight": "bold", "offset": -11, "dx": -20},
          "data": {"name": "igg_hist"},
          "mark": {"type": "area", "interpolate": "step-after", "color": "black", "opacity": 1},
          "encoding": {
            "x": {"field": "lgFL", "type": "quantitative", "scale": {"domain": [0, 4], "nice": false, "zero": false},
              "axis": {"title": "FL3-H", "values": [0,0.301,0.477,0.602,0.699,0.778,0.845,0.903,0.954,1,1.301,1.477,1.602,1.699,1.778,1.845,1.903,1.954,2,2.301,2.477,2.602,2.699,2.778,2.845,2.903,2.954,3,3.301,3.477,3.602,3.699,3.778,3.845,3.903,3.954,4],
                "labelExpr": "datum.value === 0 ? '10⁰' : datum.value === 1 ? '10¹' : datum.value === 2 ? '10²' : datum.value === 3 ? '10³' : datum.value === 4 ? '10⁴' : ''",
                "tickSize": {"condition": {"test": "datum.value % 1 === 0", "value": 7}, "value": 4},
                "offset": 3, "labelPadding": 1, "titlePadding": 1}},
            "y": {"field": "counts", "type": "quantitative", "scale": {"domain": [0, 200], "nice": false},
              "axis": {"title": "Counts", "titleFontSize": 17, "values": [0,8,16,24,32,40,48,56,64,72,80,88,96,104,112,120,128,136,144,152,160,168,176,184,192,200],
                "labelExpr": "datum.value % 40 === 0 ? datum.label : ''",
                "tickSize": {"condition": {"test": "datum.value % 40 === 0", "value": 7}, "value": 4},
                "labelFontSize": 15, "labelAngle": 270, "offset": 3, "labelPadding": 6, "titlePadding": 3}}
          }
        }
      ]
    }
  ]
}
